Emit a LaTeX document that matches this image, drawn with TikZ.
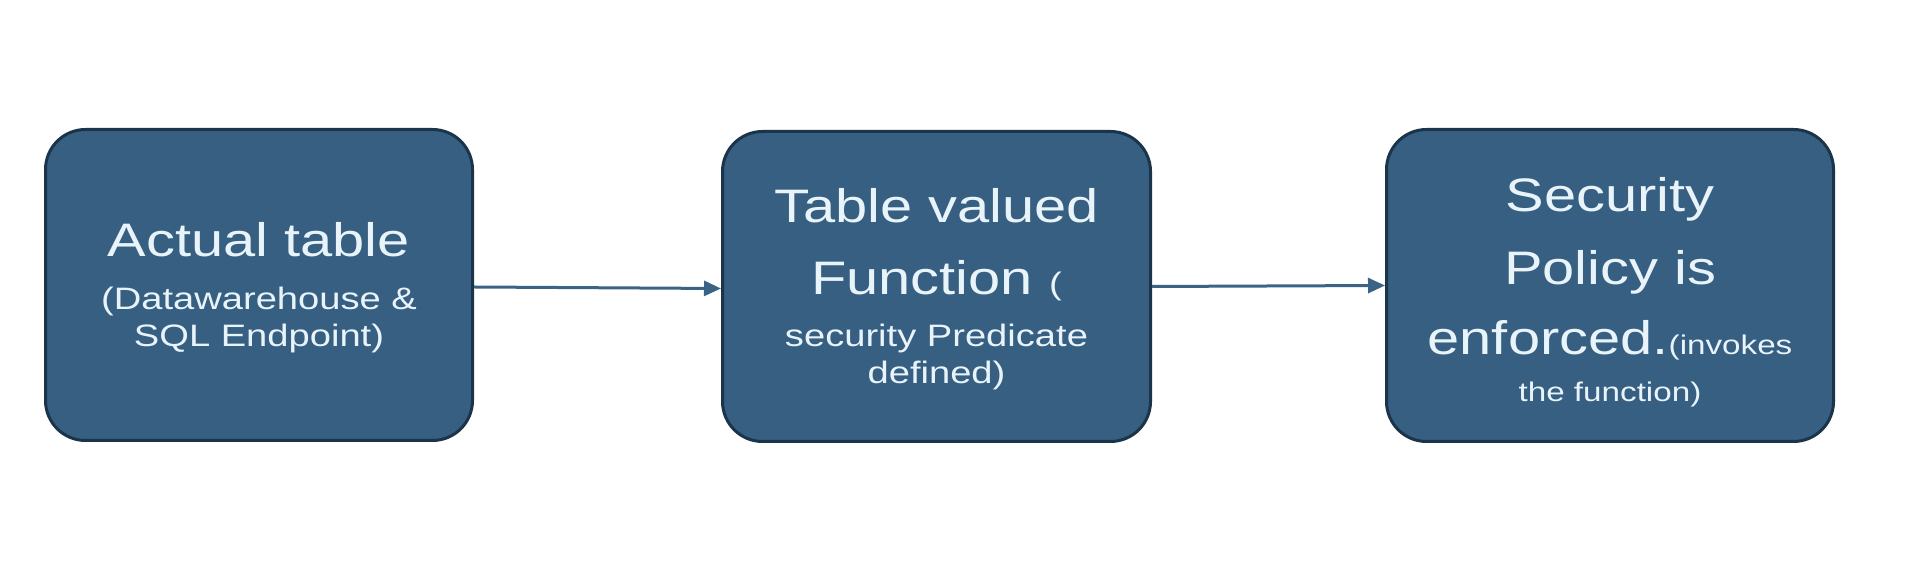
\documentclass[tikz,border=0pt]{standalone}
\usepackage{fontspec}
\setmainfont[FakeStretch=1.23]{Liberation Sans}
\usetikzlibrary{arrows.meta}
\definecolor{boxfill}{RGB}{54,95,130}
\definecolor{boxedge}{RGB}{28,52,74}
\definecolor{txt}{RGB}{232,243,250}
\definecolor{arr}{RGB}{58,99,134}
\newcommand{\bigtxt}{\fontsize{47}{56}\selectfont}
\newcommand{\smtxt}{\fontsize{31}{37}\selectfont}
\newcommand{\tinytxt}{\fontsize{27}{32}\selectfont}
\tikzset{
  stepbox/.style={draw=boxedge, fill=boxfill, line width=3pt, rounded corners=40pt, inner sep=0pt},
  lbl/.style={text=txt, anchor=base, inner sep=0pt},
  flow/.style={draw=arr, line width=3pt, -{Triangle[length=17pt,width=15pt]}}
}
\begin{document}
\begin{tikzpicture}[x=1pt,y=1pt]
\useasboundingbox (0,0) rectangle (1927,572);
\node[stepbox, minimum width=427pt, minimum height=311pt] (b1) at (259,287) {};
\node[stepbox, minimum width=428pt, minimum height=310pt] (b2) at (936.5,285.5) {};
\node[stepbox, minimum width=447pt, minimum height=312pt] (b3) at (1610,286.5) {};
% box 1
\node[lbl] (t1a) at (259,315) {\bigtxt Actual table};
\node[lbl] (t1b) at (259,262) {\smtxt (Datawarehouse \&};
\node[lbl] (t1c) at (259,225) {\smtxt SQL Endpoint)};
% box 2
\node[lbl] (t2a) at (936.5,349) {\bigtxt Table valued};
\node[lbl] (t2b) at (936.5,277) {\bigtxt Function {\smtxt (}};
\node[lbl] (t2c) at (936.5,225) {\smtxt security Predicate};
\node[lbl] (t2d) at (936.5,188) {\smtxt defined)};
% box 3
\node[lbl] (t3a) at (1610,360) {\bigtxt Security};
\node[lbl] (t3b) at (1610,287) {\bigtxt Policy is};
\node[lbl] (t3c) at (1610,217) {\bigtxt enforced.{\tinytxt(invokes}};
\node[lbl] (t3d) at (1610,170) {\tinytxt the function)};
\draw[flow] ([yshift=-2pt]b1.east) -- ([yshift=-2pt]b2.west);
\draw[flow] (b2.east) -- (b3.west);
\end{tikzpicture}
\end{document}
